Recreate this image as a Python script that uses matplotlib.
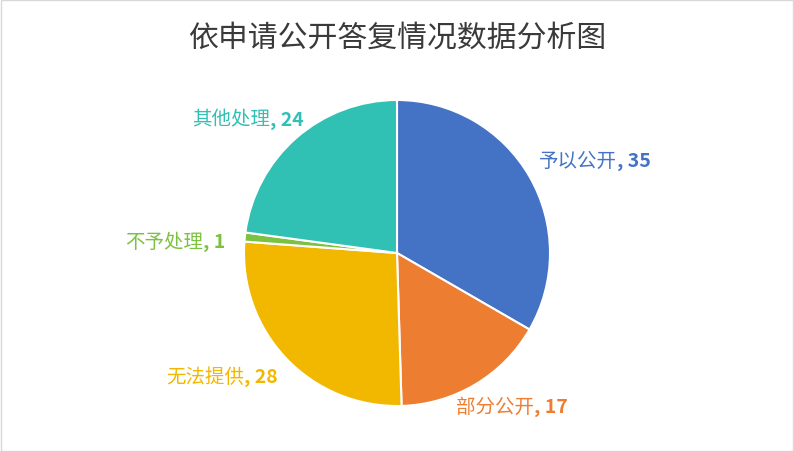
import numpy as np
import matplotlib.pyplot as plt
from matplotlib.patches import Rectangle
from matplotlib.offsetbox import TextArea, HPacker, AnnotationBbox

plt.rcParams['font.family'] = ['Noto Sans CJK SC', 'DejaVu Sans']

# ------------------ DATA ------------------

categories = ["予以公开", "部分公开", "无法提供", "不予处理", "其他处理"]
values = [35, 17, 28, 1, 24]
colors = ["#4472C4", "#ED7D31", "#F2B800", "#7CC242", "#30C0B4"]
title = "依申请公开答复情况数据分析图"

# label placement (radius factor, angle shift in degrees) - style only
label_r = [1.43, 1.25, 1.40, 1.45, 1.31]
label_shift = [-5, 6, -8.5, 3, 7]

# ------------------ CHART ------------------

W, H = 794, 452
cx, cy, rad = 397, 254, 153

fig = plt.figure(figsize=(W / 100, H / 100), dpi=100)
ax = fig.add_axes([0, 0, 1, 1])

wedges, _ = ax.pie(
    values,
    colors=colors,
    startangle=90,
    counterclock=False,
    wedgeprops=dict(edgecolor="white", linewidth=1.5),
)

ax.set_xlim(-cx / rad, (W - cx) / rad)
ax.set_ylim(-(H - cy) / rad, cy / rad)
ax.set_aspect("equal", adjustable="datalim")
ax.axis("off")

# name in regular weight, ", value" in bold, packed and centred on a point
for w, cat, val, col, r, sh in zip(wedges, categories, values, colors, label_r, label_shift):
    ang = np.deg2rad((w.theta1 + w.theta2) / 2 + sh)
    name = TextArea(cat, textprops=dict(color=col, fontsize=14))
    num = TextArea(f", {val}", textprops=dict(color=col, fontsize=14,
                                               fontweight="bold"))
    box = HPacker(children=[name, num], align="baseline", pad=0, sep=0)
    ab = AnnotationBbox(box, (r * np.cos(ang), r * np.sin(ang)),
                        frameon=False, box_alignment=(0.5, 0.5), pad=0)
    ax.add_artist(ab)

fig.text(0.5, 1 - 38 / H, title, ha="center", va="center",
         fontsize=21.5, color="#3A3A3A")

fig.patches.append(Rectangle((0.5 / W, 0.5 / H), 1 - 1.5 / W, 1 - 1.5 / H,
                             transform=fig.transFigure, fill=False,
                             edgecolor="#D9D9D9", linewidth=1))

fig.savefig("out.png", dpi=100)
plt.close(fig)
